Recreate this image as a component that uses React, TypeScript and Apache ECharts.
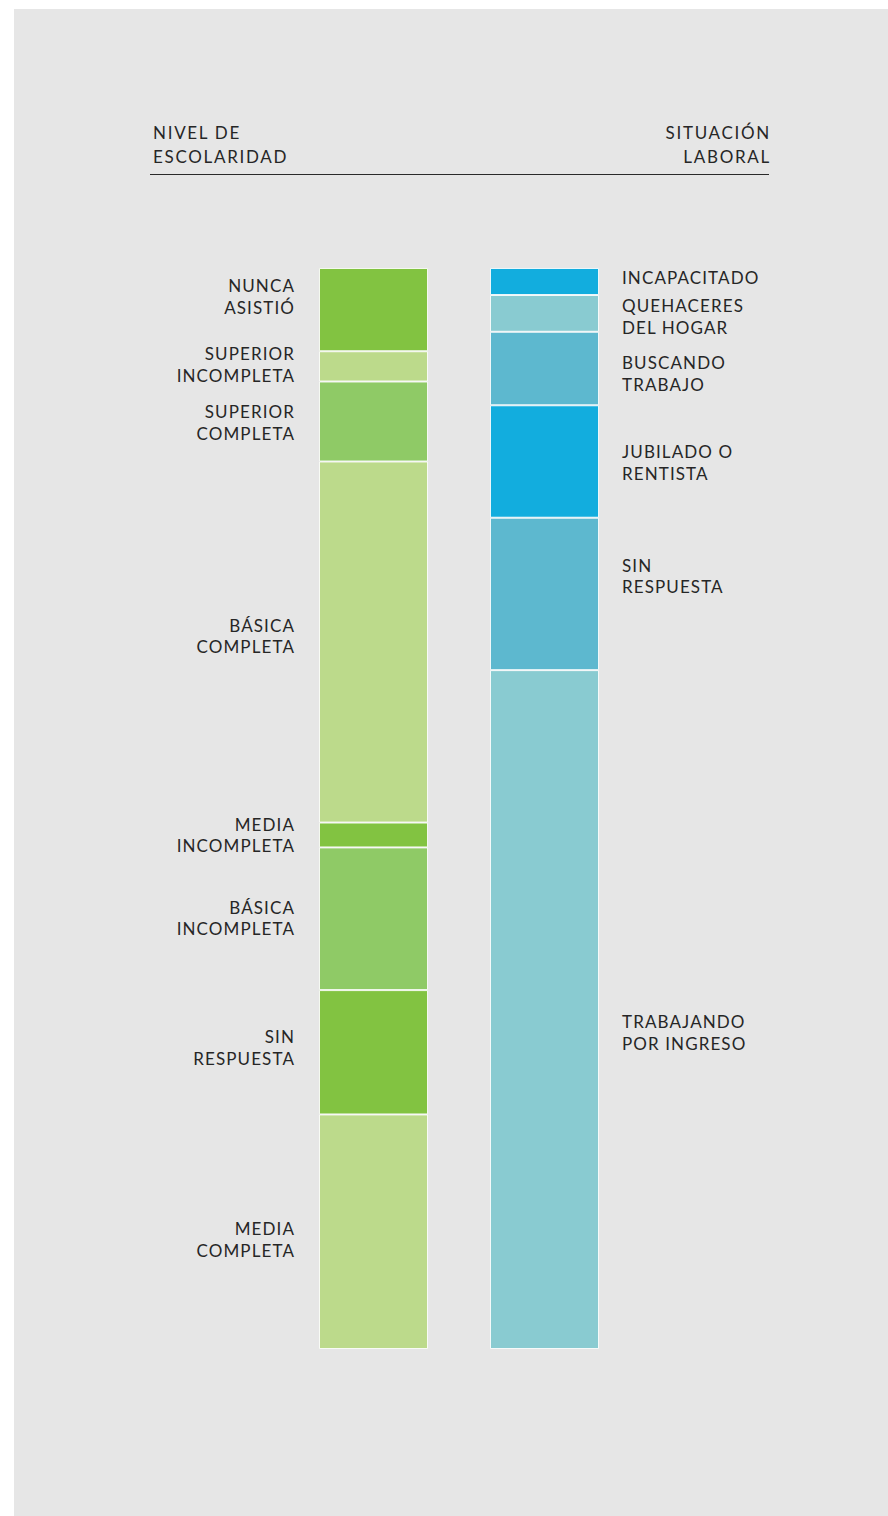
import React, { useEffect, useRef } from "react";
import * as echarts from "echarts";

// ---- data ----
const bars = ["NIVEL DE ESCOLARIDAD", "SITUACIÓN LABORAL"];

const schoolLabels = [
  "NUNCA\nASISTIÓ",
  "SUPERIOR\nINCOMPLETA",
  "SUPERIOR\nCOMPLETA",
  "BÁSICA\nCOMPLETA",
  "MEDIA\nINCOMPLETA",
  "BÁSICA\nINCOMPLETA",
  "SIN\nRESPUESTA",
  "MEDIA\nCOMPLETA",
];
const schoolValues = [7.7, 2.8, 7.4, 33.4, 2.3, 13.2, 11.5, 21.7];

const workLabels = [
  "INCAPACITADO",
  "QUEHACERES\nDEL HOGAR",
  "BUSCANDO\nTRABAJO",
  "JUBILADO O\nRENTISTA",
  "SIN\nRESPUESTA",
  "TRABAJANDO\nPOR INGRESO",
];
const workValues = [2.5, 3.4, 6.8, 10.4, 14.1, 62.8];

// ---- styles ----
const schoolColors = ["#82C341", "#BCDA8B", "#8FCA66", "#BCDA8B", "#82C341", "#8FCA66", "#82C341", "#BCDA8B"];
const workColors = ["#12ADDE", "#89CBD1", "#5DB8CF", "#12ADDE", "#5DB8CF", "#89CBD1"];
const schoolLabelShift = [-13, -2, 1, -6, 0, -1, -5, 8];
const workLabelShift = [-4, 3, 5, 1, -18, 23];

const LABEL_FONT = "Lato, 'Noto Sans', sans-serif";
const HEAD_FONT = "Lato, 'Open Sans', sans-serif";
const TEXT = "#262626";

export default function App() {
  const ref = useRef<HTMLDivElement>(null);
  useEffect(() => {
    if (!ref.current) return;
    const chart = echarts.init(ref.current, null, { renderer: "svg" });
    const series: any[] = [];
    const mkLabel = (text: string, pos: string, dist: number, shift: number) => ({
      show: true,
      position: pos,
      distance: dist,
      offset: [0, shift],
      formatter: text,
      color: TEXT,
      fontFamily: LABEL_FONT,
      fontSize: 17,
      lineHeight: 21.5,
      align: pos === "left" ? "right" : "left",
    });
    schoolValues.forEach((v, i) => {
      series.push({
        type: "bar",
        name: schoolLabels[i],
        stack: "all",
        barWidth: 109,
        data: [v, "-"],
        itemStyle: { color: schoolColors[i], borderColor: "rgba(255,255,255,0.85)", borderWidth: 1 },
        label: mkLabel(schoolLabels[i], "left", 24, schoolLabelShift[i]),
      });
    });
    workValues.forEach((v, i) => {
      series.push({
        type: "bar",
        name: workLabels[i],
        stack: "all",
        barWidth: 109,
        data: ["-", v],
        itemStyle: { color: workColors[i], borderColor: "rgba(255,255,255,0.85)", borderWidth: 1 },
        label: mkLabel(workLabels[i], "right", 23, workLabelShift[i]),
      });
    });

    chart.setOption({
      animation: false,
      backgroundColor: "#ffffff",
      grid: { left: 288, right: 258, top: 268, bottom: 167 },
      xAxis: {
        type: "category",
        data: bars,
        show: false,
      },
      yAxis: {
        type: "value",
        min: 0,
        max: 100,
        inverse: true,
        show: false,
      },
      graphic: [
        {
          type: "rect",
          z: -10,
          silent: true,
          shape: { x: 14, y: 9, width: 874, height: 1507 },
          style: { fill: "#e6e6e6" },
        },
        {
          type: "text",
          x: 153,
          y: 120,
          style: {
            text: "NIVEL DE\nESCOLARIDAD",
            fill: TEXT,
            font: `17px ${HEAD_FONT}`,
            lineHeight: 24,
            textAlign: "left",
          },
        },
        {
          type: "text",
          x: 771,
          y: 120,
          style: {
            text: "SITUACIÓN\nLABORAL",
            fill: TEXT,
            font: `17px ${HEAD_FONT}`,
            lineHeight: 24,
            textAlign: "right",
          },
        },
        {
          type: "line",
          shape: { x1: 150, y1: 174.5, x2: 769, y2: 174.5 },
          style: { stroke: "#2a2a2a", lineWidth: 1 },
        },
      ],
      series,
    });
    return () => chart.dispose();
  }, []);
  return (
    <>
      <style>{`
        .chart-root svg text { letter-spacing: 1.1px; }
        .chart-root svg text[style*="Open Sans"] { letter-spacing: 1.7px; }
      `}</style>
      <div
        ref={ref}
        className="chart-root"
        style={{ position: "absolute", left: 0, top: 0, width: 888, height: 1516 }}
      />
    </>
  );
}
